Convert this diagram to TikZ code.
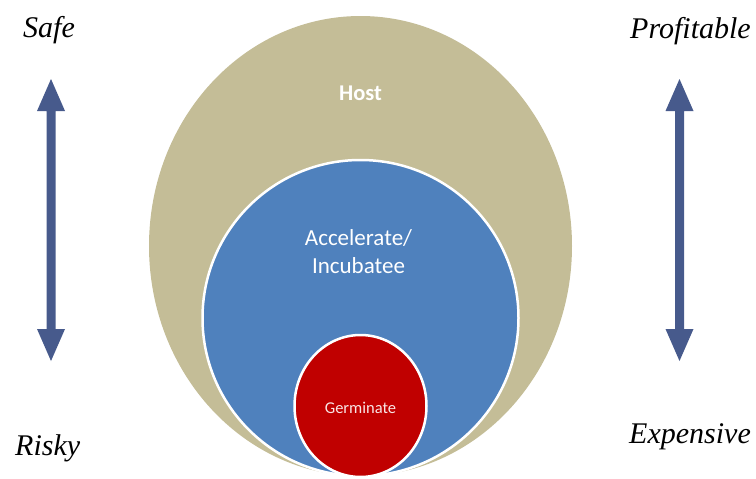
\documentclass[tikz,border=0pt]{standalone}
\usepackage{fontspec}
\setmainfont{Liberation Serif}
\newfontfamily\calibri{Carlito}
\usetikzlibrary{shapes.geometric}
\definecolor{hostc}{HTML}{C4BD97}
\definecolor{accc}{HTML}{4F81BD}
\definecolor{germc}{HTML}{C00000}
\definecolor{arrc}{RGB}{71,90,140}
\tikzset{
  zone/.style={ellipse, inner sep=0pt, outer sep=0pt},
  lbl/.style={font=\itshape\fontsize{30}{34}\selectfont, anchor=base west, inner sep=0pt},
  intext/.style={text=white, align=center, inner sep=0pt, anchor=base},
  darrow/.style={fill=arrc, draw=none}
}
\newcommand{\dblarrow}[1]{%
  \fill[darrow] (#1,79) -- (#1+14,111) -- (#1+4.5,111) -- (#1+4.5,329) -- (#1+14,329)
    -- (#1,361) -- (#1-14,329) -- (#1-4.5,329) -- (#1-4.5,111) -- (#1-14,111) -- cycle;}
\begin{document}
\begin{tikzpicture}[x=1pt,y=-1pt]
\useasboundingbox (0,0) rectangle (756,479);
\node[zone, fill=hostc, minimum width=423pt, minimum height=460pt] (host) at (360.5,246) {};
\node[zone, fill=accc, draw=white, line width=2.5pt, minimum width=316pt, minimum height=316pt] (acc) at (360.5,318) {};
\node[zone, fill=germc, draw=white, line width=2.5pt, minimum width=132pt, minimum height=142pt] (germ) at (360.5,406) {};
\node[intext, font=\calibri\bfseries\fontsize{22.5}{27}\selectfont] (hostt) at (360.5,100) {Host};
\node[intext, font=\calibri\fontsize{23}{28}\selectfont, anchor=base] (acct) at (358.5,273) {Accelerate/\\Incubatee};
\node[intext, font=\calibri\fontsize{16.5}{20}\selectfont, text=white!90!germc] (germt) at (360.5,413) {Germinate};
\node[lbl] (safe) at (23,37) {Safe};
\node[lbl] (prof) at (630,38) {Profitable};
\node[lbl] (risky) at (15,455) {Risky};
\node[lbl] (exp) at (629,443) {Expensive};
\dblarrow{51}
\dblarrow{679.5}
\end{tikzpicture}
\end{document}
